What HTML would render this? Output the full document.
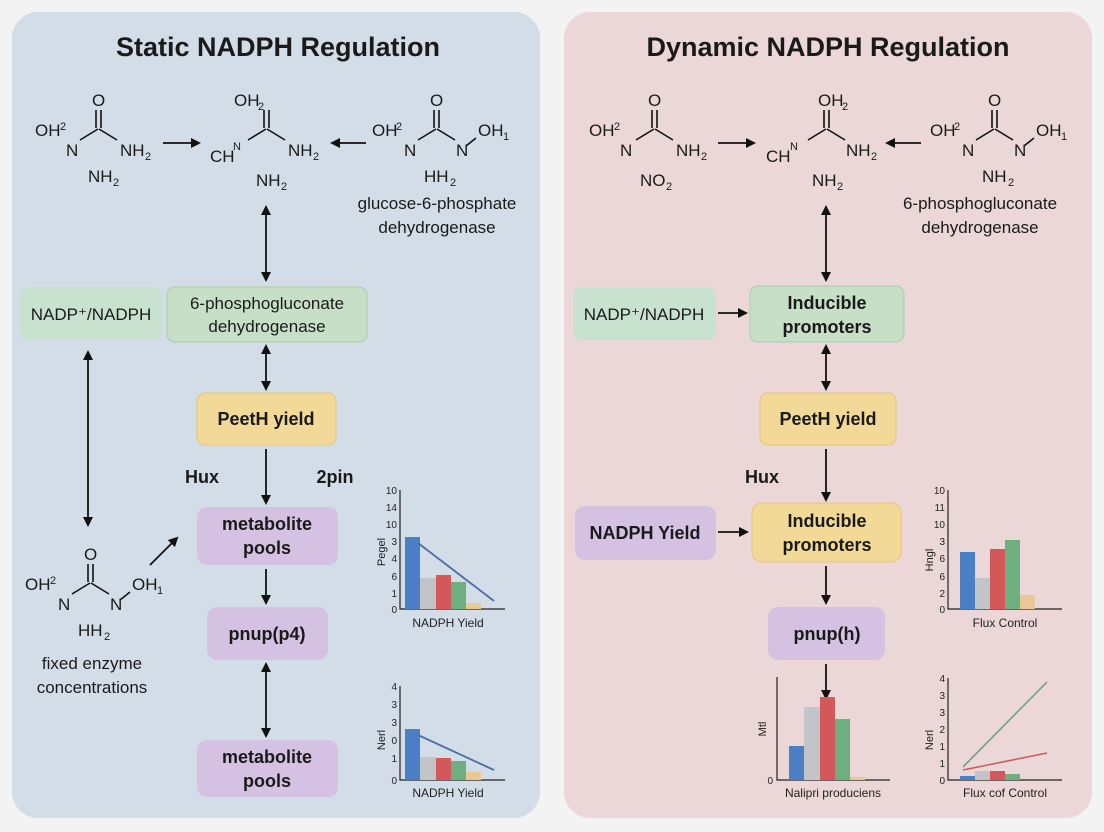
<!DOCTYPE html>
<html><head><meta charset="utf-8"><style>
html,body{margin:0;padding:0;background:#f4f4f4;}
svg{display:block;font-family:"Liberation Sans",sans-serif;}
.t{font-size:17px;fill:#1a1a1a;}
.s{font-size:11px;fill:#1a1a1a;}
.bx{font-size:17px;fill:#1a1a1a;text-anchor:middle;}
.bb{font-size:18px;font-weight:bold;fill:#1a1a1a;text-anchor:middle;}
.tk{font-size:10px;fill:#222;text-anchor:end;}
.cl{font-size:12px;fill:#222;text-anchor:middle;}
.ln{stroke:#111;stroke-width:1.6;fill:none;}
.ar{stroke:#111;stroke-width:1.8;fill:none;}
</style></head><body>
<svg width="1104" height="832" viewBox="0 0 1104 832">
<defs>
<marker id="a" markerWidth="10" markerHeight="10" refX="8" refY="5" orient="auto-start-reverse" markerUnits="userSpaceOnUse"><path d="M0,0 L10,5 L0,10 z" fill="#111"/></marker>
</defs>
<rect x="0" y="0" width="1104" height="832" fill="#f3f3f3"/>
<rect x="12" y="12" width="528" height="806" rx="26" fill="#d3dde8"/>
<rect x="564" y="12" width="528" height="806" rx="26" fill="#ebd6d8"/>
<text x="278" y="56" font-size="27" font-weight="bold" text-anchor="middle" fill="#1a1a1a">Static NADPH Regulation</text>
<text x="828" y="56" font-size="27" font-weight="bold" text-anchor="middle" fill="#1a1a1a">Dynamic NADPH Regulation</text>

<!-- molecule template: left panel -->
<g>
<text class="t" x="92" y="106">O</text>
<path class="ln" d="M96,110 V128 M101,110 V128 M98,129 L80,140 M99,129 L117,140"/>
<text class="t" x="35" y="136">OH</text><text class="s" x="60" y="130">2</text>
<text class="t" x="66" y="156">N</text>
<text class="t" x="120" y="156">NH</text><text class="s" x="145" y="160">2</text>
<text class="t" x="88" y="182">NH</text><text class="s" x="113" y="186">2</text>
</g>
<line class="ar" x1="163" y1="143" x2="199" y2="143" marker-end="url(#a)"/>
<g>
<text class="t" x="234" y="106">OH</text><text class="s" x="258" y="110">2</text>
<path class="ln" d="M264,110 V128 M269,110 V128 M266,129 L248,140 M267,129 L285,140"/>
<text class="t" x="210" y="162">CH</text><text class="s" x="233" y="150">N</text>
<text class="t" x="288" y="156">NH</text><text class="s" x="313" y="160">2</text>
<text class="t" x="256" y="186">NH</text><text class="s" x="281" y="190">2</text>
</g>
<line class="ar" x1="366" y1="143" x2="332" y2="143" marker-end="url(#a)"/>
<g>
<text class="t" x="430" y="106">O</text>
<path class="ln" d="M434,110 V128 M439,110 V128 M436,129 L418,140 M437,129 L455,140 M466,146 L476,138"/>
<text class="t" x="372" y="136">OH</text><text class="s" x="396" y="130">2</text>
<text class="t" x="404" y="156">N</text>
<text class="t" x="456" y="156">N</text>
<text class="t" x="478" y="136">OH</text><text class="s" x="503" y="140">1</text>
<text class="t" x="424" y="182">HH</text><text class="s" x="450" y="186">2</text>
</g>
<text class="bx" x="437" y="209">glucose-6-phosphate</text>
<text class="bx" x="437" y="233">dehydrogenase</text>

<!-- right molecules -->
<g>
<text class="t" x="648" y="106">O</text>
<path class="ln" d="M652,110 V128 M657,110 V128 M654,129 L636,140 M655,129 L673,140"/>
<text class="t" x="589" y="136">OH</text><text class="s" x="614" y="130">2</text>
<text class="t" x="620" y="156">N</text>
<text class="t" x="676" y="156">NH</text><text class="s" x="701" y="160">2</text>
<text class="t" x="640" y="186">NO</text><text class="s" x="666" y="190">2</text>
</g>
<line class="ar" x1="718" y1="143" x2="754" y2="143" marker-end="url(#a)"/>
<g>
<text class="t" x="818" y="106">OH</text><text class="s" x="842" y="110">2</text>
<path class="ln" d="M824,110 V128 M829,110 V128 M826,129 L808,140 M827,129 L845,140"/>
<text class="t" x="766" y="162">CH</text><text class="s" x="790" y="150">N</text>
<text class="t" x="846" y="156">NH</text><text class="s" x="871" y="160">2</text>
<text class="t" x="812" y="186">NH</text><text class="s" x="837" y="190">2</text>
</g>
<line class="ar" x1="921" y1="143" x2="887" y2="143" marker-end="url(#a)"/>
<g>
<text class="t" x="988" y="106">O</text>
<path class="ln" d="M992,110 V128 M997,110 V128 M994,129 L976,140 M995,129 L1013,140 M1024,146 L1034,138"/>
<text class="t" x="930" y="136">OH</text><text class="s" x="954" y="130">2</text>
<text class="t" x="962" y="156">N</text>
<text class="t" x="1014" y="156">N</text>
<text class="t" x="1036" y="136">OH</text><text class="s" x="1061" y="140">1</text>
<text class="t" x="982" y="182">NH</text><text class="s" x="1008" y="186">2</text>
</g>
<text class="bx" x="980" y="209">6-phosphogluconate</text>
<text class="bx" x="980" y="233">dehydrogenase</text>

<!-- left boxes -->
<rect x="20" y="287" width="142" height="53" rx="8" fill="#c9e2cf"/>
<text class="bx" x="91" y="320">NADP⁺/NADPH</text>
<rect x="167" y="287" width="200" height="55" rx="8" fill="#c6dfc6" stroke="#a8cda8"/>
<text class="bx" x="267" y="309">6-phosphogluconate</text>
<text class="bx" x="267" y="332">dehydrogenase</text>
<rect x="197" y="393" width="139" height="52" rx="8" fill="#f2d998" stroke="#e3c77c"/>
<text class="bb" x="266" y="425">PeetH yield</text>
<rect x="197" y="507" width="141" height="58" rx="10" fill="#d5c2e2"/>
<text class="bb" x="267" y="530">metabolite</text>
<text class="bb" x="267" y="554">pools</text>
<rect x="207" y="607" width="121" height="53" rx="10" fill="#d5c2e2"/>
<text class="bb" x="267" y="640">pnup(p4)</text>
<rect x="197" y="740" width="141" height="57" rx="10" fill="#d5c2e2"/>
<text class="bb" x="267" y="763">metabolite</text>
<text class="bb" x="267" y="787">pools</text>
<text class="bb" x="202" y="483">Hux</text>
<text class="bb" x="335" y="483">2pin</text>

<line class="ar" x1="266" y1="207" x2="266" y2="280" marker-start="url(#a)" marker-end="url(#a)"/>
<line class="ar" x1="266" y1="346" x2="266" y2="389" marker-start="url(#a)" marker-end="url(#a)"/>
<line class="ar" x1="266" y1="449" x2="266" y2="503" marker-end="url(#a)"/>
<line class="ar" x1="266" y1="569" x2="266" y2="603" marker-end="url(#a)"/>
<line class="ar" x1="266" y1="664" x2="266" y2="736" marker-start="url(#a)" marker-end="url(#a)"/>
<line class="ar" x1="88" y1="352" x2="88" y2="525" marker-start="url(#a)" marker-end="url(#a)"/>
<line class="ar" x1="150" y1="565" x2="177" y2="538" marker-end="url(#a)"/>

<!-- bottom-left molecule -->
<g>
<text class="t" x="84" y="560">O</text>
<path class="ln" d="M88,564 V582 M93,564 V582 M90,583 L72,594 M91,583 L109,594 M120,600 L130,592"/>
<text class="t" x="25" y="590">OH</text><text class="s" x="50" y="584">2</text>
<text class="t" x="58" y="610">N</text>
<text class="t" x="110" y="610">N</text>
<text class="t" x="132" y="590">OH</text><text class="s" x="157" y="594">1</text>
<text class="t" x="78" y="636">HH</text><text class="s" x="104" y="640">2</text>
</g>
<text class="bx" x="92" y="669">fixed enzyme</text>
<text class="bx" x="92" y="693">concentrations</text>

<!-- right boxes -->
<rect x="573" y="287" width="143" height="53" rx="8" fill="#c9e2cf"/>
<text class="bx" x="644" y="320">NADP⁺/NADPH</text>
<line class="ar" x1="718" y1="313" x2="746" y2="313" marker-end="url(#a)"/>
<rect x="750" y="286" width="154" height="56" rx="8" fill="#c6dfc6" stroke="#a8cda8"/>
<text class="bb" x="827" y="309">Inducible</text>
<text class="bb" x="827" y="333">promoters</text>
<rect x="760" y="393" width="136" height="52" rx="8" fill="#f2d998" stroke="#e3c77c"/>
<text class="bb" x="828" y="425">PeetH yield</text>
<text class="bb" x="762" y="483">Hux</text>
<rect x="575" y="506" width="141" height="54" rx="10" fill="#d5c2e2"/>
<text class="bb" x="645" y="539">NADPH Yield</text>
<line class="ar" x1="718" y1="532" x2="747" y2="532" marker-end="url(#a)"/>
<rect x="752" y="503" width="149" height="59" rx="10" fill="#f2d998" stroke="#e3c77c"/>
<text class="bb" x="827" y="527">Inducible</text>
<text class="bb" x="827" y="551">promoters</text>
<rect x="768" y="607" width="117" height="53" rx="10" fill="#d5c2e2"/>
<text class="bb" x="827" y="640">pnup(h)</text>
<line class="ar" x1="826" y1="207" x2="826" y2="280" marker-start="url(#a)" marker-end="url(#a)"/>
<line class="ar" x1="826" y1="346" x2="826" y2="389" marker-start="url(#a)" marker-end="url(#a)"/>
<line class="ar" x1="826" y1="449" x2="826" y2="500" marker-end="url(#a)"/>
<line class="ar" x1="826" y1="566" x2="826" y2="603" marker-end="url(#a)"/>
<line class="ar" x1="826" y1="664" x2="826" y2="698" marker-end="url(#a)"/>

<!-- chart L1 -->
<g>
<path d="M400,490 V609 H505" stroke="#222" stroke-width="1.2" fill="none"/>
<text class="tk" x="397" y="494">10</text><text class="tk" x="397" y="511">14</text><text class="tk" x="397" y="528">10</text><text class="tk" x="397" y="545">3</text><text class="tk" x="397" y="562">4</text><text class="tk" x="397" y="580">6</text><text class="tk" x="397" y="597">1</text><text class="tk" x="397" y="613">0</text>
<text class="s" transform="translate(385,552) rotate(-90)" text-anchor="middle">Pegel</text>
<rect x="405" y="537" width="15" height="72" fill="#4a7fc6"/>
<rect x="420" y="578" width="16" height="31" fill="#c2c4c8"/>
<rect x="436" y="575" width="15" height="34" fill="#d4575a"/>
<rect x="451" y="582" width="15" height="27" fill="#6daf7e"/>
<rect x="466" y="603" width="15" height="6" fill="#e8c896"/>
<line x1="418" y1="543" x2="494" y2="601" stroke="#4b6ea6" stroke-width="1.8"/>
<text class="cl" x="448" y="627">NADPH Yield</text>
</g>
<!-- chart L2 -->
<g>
<path d="M400,686 V780 H505" stroke="#222" stroke-width="1.2" fill="none"/>
<text class="tk" x="397" y="690">4</text><text class="tk" x="397" y="708">3</text><text class="tk" x="397" y="726">3</text><text class="tk" x="397" y="744">0</text><text class="tk" x="397" y="762">1</text><text class="tk" x="397" y="784">0</text>
<text class="s" transform="translate(385,740) rotate(-90)" text-anchor="middle">Nerl</text>
<rect x="405" y="729" width="15" height="51" fill="#4a7fc6"/>
<rect x="420" y="757" width="16" height="23" fill="#c2c4c8"/>
<rect x="436" y="758" width="15" height="22" fill="#d4575a"/>
<rect x="451" y="761" width="15" height="19" fill="#6daf7e"/>
<rect x="466" y="772" width="15" height="8" fill="#e8c896"/>
<line x1="418" y1="735" x2="494" y2="770" stroke="#4b6ea6" stroke-width="1.8"/>
<text class="cl" x="448" y="797">NADPH Yield</text>
</g>
<!-- chart R1 -->
<g>
<path d="M948,490 V609 H1062" stroke="#222" stroke-width="1.2" fill="none"/>
<text class="tk" x="945" y="494">10</text><text class="tk" x="945" y="511">11</text><text class="tk" x="945" y="528">10</text><text class="tk" x="945" y="545">3</text><text class="tk" x="945" y="562">6</text><text class="tk" x="945" y="580">6</text><text class="tk" x="945" y="597">2</text><text class="tk" x="945" y="613">0</text>
<text class="s" transform="translate(933,560) rotate(-90)" text-anchor="middle">Hngl</text>
<rect x="960" y="552" width="15" height="57" fill="#4a7fc6"/>
<rect x="975" y="578" width="15" height="31" fill="#c2c4c8"/>
<rect x="990" y="549" width="15" height="60" fill="#d4575a"/>
<rect x="1005" y="540" width="15" height="69" fill="#6daf7e"/>
<rect x="1020" y="595" width="15" height="14" fill="#e8c896"/>
<text class="cl" x="1005" y="627">Flux Control</text>
</g>
<!-- chart R2 -->
<g>
<path d="M948,678 V780 H1062" stroke="#222" stroke-width="1.2" fill="none"/>
<text class="tk" x="945" y="682">4</text><text class="tk" x="945" y="699">3</text><text class="tk" x="945" y="716">3</text><text class="tk" x="945" y="733">2</text><text class="tk" x="945" y="750">1</text><text class="tk" x="945" y="767">1</text><text class="tk" x="945" y="784">0</text>
<text class="s" transform="translate(933,740) rotate(-90)" text-anchor="middle">Nerl</text>
<rect x="960" y="776" width="15" height="4" fill="#4a7fc6"/>
<rect x="975" y="771" width="15" height="9" fill="#c2c4c8"/>
<rect x="990" y="771" width="15" height="9" fill="#d4575a"/>
<rect x="1005" y="774" width="15" height="6" fill="#6daf7e"/>
<line x1="963" y1="767" x2="1047" y2="682" stroke="#6a9e7a" stroke-width="1.5"/>
<line x1="963" y1="770" x2="1047" y2="753" stroke="#cc5a5a" stroke-width="1.5"/>
<text class="cl" x="1005" y="797">Flux cof Control</text>
</g>
<!-- chart R3 -->
<g>
<path d="M777,677 V780 H890" stroke="#222" stroke-width="1.2" fill="none"/>
<text class="tk" x="773" y="784">0</text>
<text class="s" transform="translate(766,729) rotate(-90)" text-anchor="middle">Mtl</text>
<rect x="789" y="746" width="15" height="34" fill="#4a7fc6"/>
<rect x="804" y="707" width="16" height="73" fill="#c2c4c8"/>
<rect x="820" y="697" width="15" height="83" fill="#d4575a"/>
<rect x="835" y="719" width="15" height="61" fill="#6daf7e"/>
<rect x="850" y="777" width="15" height="3" fill="#e8c896"/>
<text class="cl" x="833" y="797">Nalipri produciens</text>
</g>
</svg>
</body></html>
